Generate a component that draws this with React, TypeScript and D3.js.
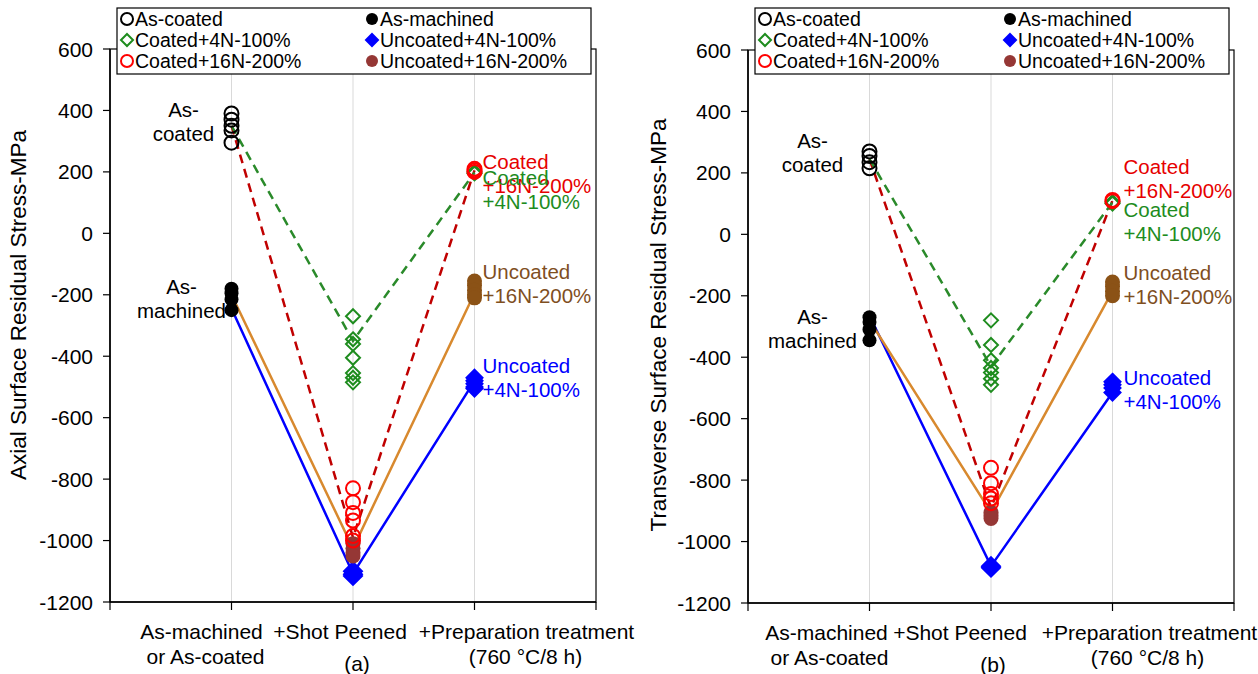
import * as d3 from "d3";

// stage positions on the x axis (domain 0..4, stages at 1,2,3)
const stages = [1, 2, 3];

// ---- (a) axial residual stress, MPa ----
const axialAsCoated = [390, 370, 350, 335, 295];
const axialAsMachined = [-180, -195, -215, -250];
const axialC4Shot = [-270, -345, -360, -405, -455, -470, -485];
const axialC4Prep = [195, 200];
const axialC16Shot = [-830, -875, -910, -935, -985, -1000];
const axialC16Prep = [200, 205, 210];
const axialU4Shot = [-1100, -1110, -1115];
const axialU4Prep = [-470, -480, -490, -500, -505];
const axialU16Shot = [-1010, -1025, -1040, -1050];
const axialU16Prep = [-155, -170, -185, -200, -210];
const axialLineC4 = [350, -350, 198];
const axialLineC16 = [350, -990, 205];
const axialLineU4 = [-245, -1108, -480];
const axialLineU16 = [-200, -1025, -195];

// ---- (b) transverse residual stress, MPa ----
const transAsCoated = [270, 255, 235, 215];
const transAsMachined = [-270, -285, -310, -345];
const transC4Shot = [-280, -360, -410, -435, -450, -470, -490];
const transC4Prep = [100, 105];
const transC16Shot = [-760, -810, -845, -860, -875];
const transC16Prep = [108, 112];
const transU4Shot = [-1080, -1085];
const transU4Prep = [-480, -490, -500, -515];
const transU16Shot = [-905, -915, -925];
const transU16Prep = [-155, -170, -185, -200];
const transLineC4 = [245, -430, 104];
const transLineC16 = [245, -890, 110];
const transLineU4 = [-265, -1080, -515];
const transLineU16 = [-280, -905, -185];

const yTicks = [600, 400, 200, 0, -200, -400, -600, -800, -1000, -1200];

const legendItems = [
  { label: "As-coated", shape: "circle", color: "#000", filled: false },
  { label: "As-machined", shape: "circle", color: "#000", filled: true },
  { label: "Coated+4N-100%", shape: "diamond", color: "#1e8c1e", filled: false },
  { label: "Uncoated+4N-100%", shape: "diamond", color: "#0000ff", filled: true },
  { label: "Coated+16N-200%", shape: "circle", color: "#ff0000", filled: false },
  { label: "Uncoated+16N-200%", shape: "circle", color: "#953735", filled: true },
];

const FONT = "'Liberation Sans', Arial, sans-serif";
const C = {
  green: "#1e8c1e",
  greenLine: "#2a8a2a",
  red: "#ff0000",
  redLine: "#c00000",
  redText: "#e60000",
  blue: "#0000ff",
  orange: "#d8892e",
  brown: "#953735",
  brownPrep: "#8b5216",
  brownText: "#7f4f1f",
  grid: "#d9d9d9",
};

function diamond(h: number) {
  return `M0,${-h}L${h},0L0,${h}L${-h},0Z`;
}

function Marker({ shape, color, filled, x, y, size }: any) {
  const sw = 2;
  if (shape === "diamond") {
    return (
      <path
        d={diamond(size)}
        transform={`translate(${x},${y})`}
        fill={filled ? color : "none"}
        stroke={color}
        strokeWidth={sw}
      />
    );
  }
  return (
    <circle cx={x} cy={y} r={size} fill={filled ? color : "none"} stroke={color} strokeWidth={filled ? 0 : sw} />
  );
}

function Panel({ left, top, right, bottom, title, titleX, titleY, d, annot, catLabels, letter }: any) {
  const x = d3.scaleLinear().domain([0, 4]).range([left, right]);
  const y = d3.scaleLinear().domain([-1200, 600]).range([bottom, top]);
  const line = d3
    .line<number>()
    .x((_, i) => x(stages[i]))
    .y((v) => y(v));

  const groups = [
    { vals: d.asCoated, st: 1, shape: "circle", color: "#000", filled: false, size: 7 },
    { vals: d.asMachined, st: 1, shape: "circle", color: "#000", filled: true, size: 7 },
    { vals: d.c4Shot, st: 2, shape: "diamond", color: C.green, filled: false, size: 7 },
    { vals: d.c4Prep, st: 3, shape: "diamond", color: C.green, filled: false, size: 7 },
    { vals: d.u4Shot, st: 2, shape: "diamond", color: C.blue, filled: true, size: 9 },
    { vals: d.u4Prep, st: 3, shape: "diamond", color: C.blue, filled: true, size: 8 },
    { vals: d.u16Shot, st: 2, shape: "circle", color: C.brown, filled: true, size: 7.5 },
    { vals: d.u16Prep, st: 3, shape: "circle", color: C.brownPrep, filled: true, size: 7.5 },
    { vals: d.c16Shot, st: 2, shape: "circle", color: C.red, filled: false, size: 7 },
    { vals: d.c16Prep, st: 3, shape: "circle", color: C.red, filled: false, size: 7 },
  ];

  const lines = [
    { vals: d.lineU4, color: C.blue, dash: null },
    { vals: d.lineU16, color: C.orange, dash: null },
    { vals: d.lineC16, color: C.redLine, dash: "9,6" },
    { vals: d.lineC4, color: C.greenLine, dash: "9,6" },
  ];

  const legX = left + 7;
  const legW = right - left - 12;
  const col2 = left + 262;

  return (
    <g fontFamily={FONT}>
      {/* grid */}
      {stages.map((s) => (
        <line key={s} x1={x(s)} x2={x(s)} y1={top} y2={bottom} stroke={C.grid} strokeWidth={1} />
      ))}
      {/* frame */}
      <rect x={left} y={top} width={right - left} height={bottom - top} fill="none" stroke="#000" strokeWidth={1.2} />
      <line x1={left} x2={left} y1={top} y2={bottom} stroke="#000" strokeWidth={1.5} />
      <line x1={left} x2={right} y1={bottom} y2={bottom} stroke="#000" strokeWidth={1.5} />
      {/* y ticks */}
      {yTicks.map((t) => (
        <g key={t}>
          <line x1={left - 7} x2={left} y1={y(t)} y2={y(t)} stroke="#000" strokeWidth={1.2} />
          <text x={left - 17} y={y(t)} dy="0.36em" textAnchor="end" fontSize={21} fill="#000">
            {t}
          </text>
        </g>
      ))}
      {/* x ticks */}
      {[0, 1, 2, 3, 4].map((t) => (
        <line key={t} x1={x(t)} x2={x(t)} y1={bottom} y2={bottom + 8} stroke="#000" strokeWidth={1.2} />
      ))}
      <text
        transform={`translate(${left - titleX},${titleY}) rotate(-90)`}
        textAnchor="middle"
        fontSize={22.5}
        fill="#000"
      >
        {title}
      </text>
      {/* mean lines */}
      {lines.map((l, i) => (
        <path key={i} d={line(l.vals) || ""} fill="none" stroke={l.color} strokeWidth={2.5} strokeDasharray={l.dash || undefined} />
      ))}
      {/* data markers */}
      {groups.map((g, gi) =>
        g.vals.map((v: number, i: number) => (
          <Marker key={`${gi}-${i}`} shape={g.shape} color={g.color} filled={g.filled} size={g.size} x={x(g.st)} y={y(v)} />
        ))
      )}
      {/* annotations */}
      {annot.map((a: any, i: number) => (
        <text key={i} x={x(a.st) + a.dx} y={y(a.v)} textAnchor={a.anchor} fontSize={20.5} fill={a.color}>
          {a.lines.map((t: string, j: number) => (
            <tspan key={j} x={x(a.st) + a.dx} dy={j === 0 ? 0 : 24}>
              {t}
            </tspan>
          ))}
        </text>
      ))}
      {/* legend */}
      <rect x={legX} y={8} width={legW} height={66} fill="white" stroke="#000" strokeWidth={1.2} />
      {legendItems.map((it, i) => {
        const cx = i % 2 === 0 ? legX + 10 : col2;
        const cy = 19 + Math.floor(i / 2) * 21;
        return (
          <g key={it.label}>
            <Marker shape={it.shape} color={it.color} filled={it.filled} size={6} x={cx} y={cy} />
            <text x={cx + 8} y={cy} dy="0.36em" fontSize={19.5} fill="#000">
              {it.label}
            </text>
          </g>
        );
      })}
      {/* category labels */}
      {catLabels.map((c: any, i: number) => (
        <text key={i} x={x(c.st) + c.dx} y={bottom + 37} textAnchor="middle" fontSize={21} fill="#000">
          {c.lines.map((t: string, j: number) => (
            <tspan key={j} x={x(c.st) + c.dx + (j === 1 ? c.dx2 : 0)} dy={j === 0 ? 0 : 25}>
              {t}
            </tspan>
          ))}
        </text>
      ))}
      <text x={x(letter.st) + letter.dx} y={bottom + 69} textAnchor="middle" fontSize={21} fill="#000">
        {letter.text}
      </text>
    </g>
  );
}

const axialData = {
  asCoated: axialAsCoated, asMachined: axialAsMachined,
  c4Shot: axialC4Shot, c4Prep: axialC4Prep, c16Shot: axialC16Shot, c16Prep: axialC16Prep,
  u4Shot: axialU4Shot, u4Prep: axialU4Prep, u16Shot: axialU16Shot, u16Prep: axialU16Prep,
  lineC4: axialLineC4, lineC16: axialLineC16, lineU4: axialLineU4, lineU16: axialLineU16,
};
const transData = {
  asCoated: transAsCoated, asMachined: transAsMachined,
  c4Shot: transC4Shot, c4Prep: transC4Prep, c16Shot: transC16Shot, c16Prep: transC16Prep,
  u4Shot: transU4Shot, u4Prep: transU4Prep, u16Shot: transU16Shot, u16Prep: transU16Prep,
  lineC4: transLineC4, lineC16: transLineC16, lineU4: transLineU4, lineU16: transLineU16,
};

const axialAnnot = [
  { st: 1, v: 378, dx: -48, anchor: "middle", color: "#000", lines: ["As-", "coated"] },
  { st: 1, v: -198, dx: -50, anchor: "middle", color: "#000", lines: ["As-", "machined"] },
  { st: 3, v: 210, dx: 8, anchor: "start", color: C.redText, lines: ["Coated", "+16N-200%"] },
  { st: 3, v: 158, dx: 8, anchor: "start", color: C.green, lines: ["Coated", "+4N-100%"] },
  { st: 3, v: -150, dx: 8, anchor: "start", color: C.brownText, lines: ["Uncoated", "+16N-200%"] },
  { st: 3, v: -455, dx: 8, anchor: "start", color: C.blue, lines: ["Uncoated", "+4N-100%"] },
];
const transAnnot = [
  { st: 1, v: 280, dx: -57, anchor: "middle", color: "#000", lines: ["As-", "coated"] },
  { st: 1, v: -292, dx: -57, anchor: "middle", color: "#000", lines: ["As-", "machined"] },
  { st: 3, v: 195, dx: 11, anchor: "start", color: C.redText, lines: ["Coated", "+16N-200%"] },
  { st: 3, v: 57, dx: 11, anchor: "start", color: C.green, lines: ["Coated", "+4N-100%"] },
  { st: 3, v: -148, dx: 11, anchor: "start", color: C.brownText, lines: ["Uncoated", "+16N-200%"] },
  { st: 3, v: -490, dx: 11, anchor: "start", color: C.blue, lines: ["Uncoated", "+4N-100%"] },
];

const axialCats = [
  { st: 1, dx: -30, dx2: 4, lines: ["As-machined", "or As-coated"] },
  { st: 2, dx: -13, dx2: 0, lines: ["+Shot Peened"] },
  { st: 3, dx: 52, dx2: -1, lines: ["+Preparation treatment", "(760 °C/8 h)"] },
];
const transCats = [
  { st: 1, dx: -43, dx2: 3, lines: ["As-machined", "or As-coated"] },
  { st: 2, dx: -31, dx2: 0, lines: ["+Shot Peened"] },
  { st: 3, dx: 37, dx2: -2, lines: ["+Preparation treatment", "(760 °C/8 h)"] },
];

export default function App() {
  return (
    <div style={{ position: "absolute", left: 0, top: 0 }}>
      <svg width={1258} height={674} style={{ display: "block", background: "white" }}>
        <Panel
          left={110} right={596} top={49} bottom={602}
          title="Axial Surface Residual Stress-MPa" titleX={84} titleY={305}
          d={axialData} annot={axialAnnot} catLabels={axialCats}
          letter={{ st: 2, dx: 4, text: "(a)" }}
        />
        <Panel
          left={748} right={1234} top={50} bottom={603}
          title="Transverse Surface Residual Stress-MPa" titleX={82} titleY={325}
          d={transData} annot={transAnnot} catLabels={transCats}
          letter={{ st: 2, dx: 2, text: "(b)" }}
        />
      </svg>
    </div>
  );
}
